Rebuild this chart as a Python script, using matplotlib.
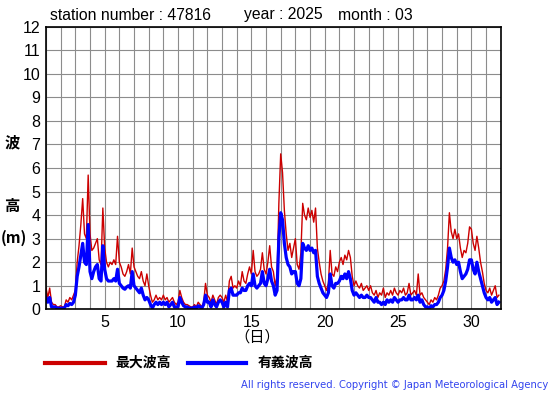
import numpy as np
from matplotlib import pyplot as plt
import matplotlib

matplotlib.rcParams["font.family"] = ["Liberation Sans", "DejaVu Sans"]

# 3-hourly values, one row per day (March 2025)
max_wave = [
    0.9, 0.5, 0.9, 0.3, 0.2, 0.2, 0.1, 0.1,
    0.15, 0.1, 0.1, 0.4, 0.3, 0.5, 0.4, 0.6,
    0.8, 2.0, 2.7, 3.6, 4.7, 3.2, 3.0, 5.7,
    3.2, 2.5, 2.6, 2.8, 3.0, 2.1, 1.9, 4.3,
    2.6, 2.0, 1.8, 2.0, 1.9, 2.1, 1.9, 3.1,
    2.0, 1.8, 1.5, 1.4, 1.6, 1.9, 1.5, 2.6,
    1.8, 1.6, 1.4, 1.3, 1.6, 1.2, 1.0, 1.5,
    1.0, 0.6, 0.3, 0.4, 0.6, 0.4, 0.5, 0.4,
    0.6, 0.4, 0.5, 0.3, 0.4, 0.5, 0.3, 0.2,
    0.3, 0.8, 0.5, 0.3, 0.2, 0.2, 0.15, 0.1,
    0.1, 0.2, 0.1, 0.3, 0.2, 0.1, 0.3, 1.1,
    0.6, 0.5, 0.3, 0.6, 0.4, 0.2, 0.5, 0.6,
    0.5, 0.3, 0.6, 0.3, 1.2, 1.4, 0.9, 1.0,
    0.9, 1.2, 1.0, 1.6, 1.2, 1.1, 1.5, 1.8,
    1.5, 2.5, 1.6, 1.4, 1.5, 1.7, 2.4, 1.7,
    1.5, 2.0, 2.7, 1.8, 1.6, 1.0, 1.4, 4.5,
    6.6, 5.8, 4.2, 3.2, 2.5, 2.8, 2.2, 2.6,
    3.0, 1.9, 1.7, 2.4, 4.5, 4.0, 3.8, 4.3,
    3.9, 4.2, 3.7, 4.3, 2.6, 2.0, 1.5, 1.2,
    1.0, 0.8, 1.1, 2.5, 1.5, 1.4, 1.8, 1.6,
    2.0, 2.2, 1.9, 2.3, 2.1, 2.5, 2.2, 1.4,
    1.0, 1.2, 1.0, 0.9, 1.1, 0.8, 0.9, 1.0,
    0.8, 1.0, 0.7, 0.6, 0.8, 0.5, 0.7, 0.6,
    0.9, 0.5, 0.7, 0.6, 0.8, 0.6, 0.9, 0.7,
    0.6, 0.8, 0.7, 0.9, 0.6, 0.7, 1.1, 0.6,
    0.7, 0.8, 0.6, 1.5, 0.6, 0.7, 0.5, 0.4,
    0.3, 0.2, 0.4, 0.3, 0.5, 0.4, 0.6, 0.9,
    1.0, 1.2, 1.7, 2.6, 4.1, 3.3, 3.0, 3.4,
    3.0, 3.2, 2.6, 2.2, 2.5, 2.4, 2.8, 3.5,
    3.4, 2.8, 2.5, 3.1, 2.6, 2.0, 1.6, 1.1,
    0.8, 0.7, 0.9, 0.6, 0.8, 1.0, 0.5, 0.6,
]

sig_wave = [
    0.5, 0.3, 0.5, 0.1, 0.1, 0.1, 0.05, 0.05,
    0.05, 0.05, 0.05, 0.2, 0.15, 0.25, 0.2, 0.3,
    0.6, 1.4, 1.8, 2.3, 2.8, 2.0, 1.9, 3.6,
    1.6, 1.3, 1.6, 1.8, 1.9, 1.3, 1.2, 2.7,
    1.7, 1.3, 1.2, 1.2, 1.2, 1.3, 1.2, 1.7,
    1.1, 1.0, 0.9, 0.85, 0.95, 1.0, 0.9, 1.6,
    1.0, 0.9, 0.8, 0.7, 0.9, 0.6, 0.4, 0.5,
    0.4, 0.2, 0.05, 0.2, 0.3, 0.2, 0.3, 0.2,
    0.3, 0.2, 0.3, 0.1, 0.2, 0.3, 0.1, 0.1,
    0.1, 0.5, 0.3, 0.15, 0.1, 0.1, 0.05, 0.05,
    0.05, 0.1, 0.05, 0.15, 0.1, 0.05, 0.2, 0.6,
    0.3, 0.3, 0.1, 0.4, 0.2, 0.1, 0.3, 0.4,
    0.3, 0.1, 0.3, 0.1, 0.8, 0.9, 0.6, 0.6,
    0.6, 0.7, 0.7, 0.9, 0.8, 0.8, 1.0, 1.1,
    1.0, 1.5, 1.0, 0.9, 1.0, 1.1, 1.6, 1.1,
    1.0, 1.3, 1.7, 1.2, 1.0, 0.6, 0.8, 3.0,
    4.1, 3.8, 2.8, 2.2, 1.9, 1.8, 1.5, 1.6,
    1.6, 1.1, 1.0, 1.3, 2.8, 2.6, 2.5, 2.7,
    2.5, 2.6, 2.4, 2.5, 1.4, 1.1, 0.9, 0.7,
    0.6, 0.5, 0.7, 1.5, 1.0, 0.9, 1.1, 1.1,
    1.2, 1.4, 1.3, 1.5, 1.3, 1.6, 1.3, 0.8,
    0.6, 0.7, 0.6, 0.5, 0.6, 0.5, 0.5, 0.6,
    0.5, 0.5, 0.4, 0.3, 0.5, 0.3, 0.3, 0.2,
    0.3, 0.2, 0.4, 0.3, 0.4, 0.3, 0.5, 0.4,
    0.3, 0.4, 0.4, 0.5, 0.4, 0.4, 0.6, 0.4,
    0.4, 0.5, 0.4, 0.6, 0.3, 0.4, 0.2, 0.1,
    0.1, 0.0, 0.15, 0.1, 0.2, 0.2, 0.3, 0.5,
    0.6, 0.8, 1.2, 1.8, 2.6, 2.2, 2.0, 2.1,
    1.9, 2.0, 1.6, 1.3, 1.4, 1.5, 1.7, 2.1,
    2.1, 1.7, 1.5, 2.0, 1.6, 1.3, 1.0, 0.7,
    0.5, 0.4, 0.5, 0.3, 0.4, 0.5, 0.2, 0.3,
]

x_ticks = [5, 10, 15, 20, 25, 30]
y_ticks = list(range(0, 13))

days = 1 + np.arange(len(max_wave)) * 3 / 24.0

fig = plt.figure(figsize=(5.55, 3.95), dpi=100)
ax = fig.add_axes([0.0829, 0.217, 0.8193, 0.7154])

ax.plot(days, max_wave, color="#cc0000", lw=1.0)
ax.plot(days, sig_wave, color="#0000ff", lw=2.3)

ax.set_xlim(1, 32)
ax.set_ylim(0, 12)
ax.set_xticks(range(1, 33), minor=True)
ax.set_xticks(x_ticks)
ax.set_yticks(y_ticks)
ax.grid(True, which="both", color="#8c8c8c", lw=0.8)
ax.tick_params(which="both", length=0, labelsize=11.5, pad=4)
for s in ax.spines.values():
    s.set_linewidth(1.2)

jp = ["Noto Sans CJK JP", "DejaVu Sans"]
fig.text(50 / 555, 1 - 15 / 395, "station number : 47816", fontsize=11.3, va="center")
fig.text(244 / 555, 1 - 15 / 395, "year : 2025", fontsize=11.3, va="center")
fig.text(338 / 555, 1 - 15 / 395, "month : 03", fontsize=11.3, va="center")

fig.text(12 / 555, 1 - 142 / 395, "波", family=jp, fontsize=11, weight="bold", ha="center", va="center")
fig.text(12 / 555, 1 - 206 / 395, "高", family=jp, fontsize=11, weight="bold", ha="center", va="center")
fig.text(14 / 555, 1 - 238 / 395, "(m)", family=jp, fontsize=11, weight="bold", ha="center", va="center")
fig.text(257 / 555, 1 - 337 / 395, "（日）", family=jp, fontsize=11, ha="center", va="center")

fig.add_artist(plt.Line2D([45 / 555, 105 / 555], [1 - 363 / 395] * 2, color="#cc0000", lw=3))
fig.text(115 / 555, 1 - 363 / 395, "最大波高", family=jp, fontsize=10, weight="bold", va="center")
fig.add_artist(plt.Line2D([188 / 555, 246 / 555], [1 - 363 / 395] * 2, color="#0000ff", lw=3))
fig.text(258 / 555, 1 - 363 / 395, "有義波高", family=jp, fontsize=10, weight="bold", va="center")

fig.text(548 / 555, 1 - 385 / 395, "All rights reserved. Copyright © Japan Meteorological Agency",
         fontsize=7.2, color="#3344ee", ha="right", va="center", family="DejaVu Sans")

plt.savefig("out.png", dpi=100)
plt.close()
